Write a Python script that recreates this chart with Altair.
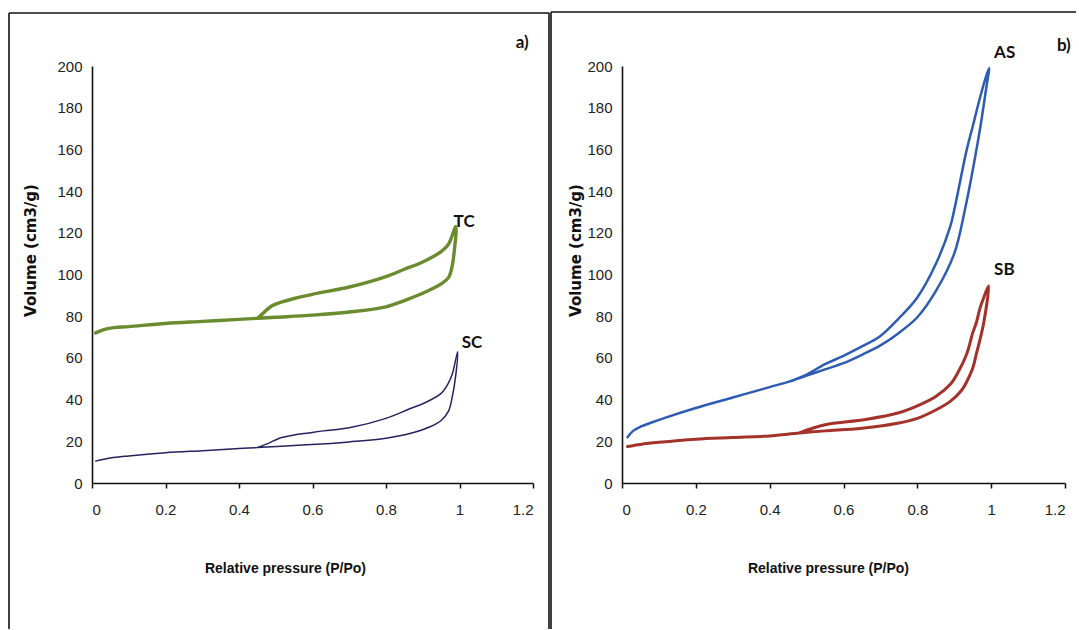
import altair as alt
import pandas as pd

# ---------------- data ----------------
# Panel a) TC (green) and SC (navy): adsorption branch then desorption branch
tc_ads_x = [0.01, 0.03, 0.06, 0.1, 0.2, 0.3, 0.4, 0.45, 0.5, 0.6, 0.7, 0.8, 0.85, 0.9, 0.93, 0.95, 0.97, 0.98, 0.985, 0.99]
tc_ads_y = [72, 73.5, 74.5, 75, 76.5, 77.5, 78.5, 79, 79.5, 80.5, 82, 84.5, 87.5, 91, 93.5, 95.5, 98.5, 104, 110, 123]
tc_des_x = [0.99, 0.97, 0.95, 0.9, 0.85, 0.8, 0.7, 0.6, 0.55, 0.52, 0.49, 0.46, 0.45]
tc_des_y = [123, 114.5, 111, 106, 102.5, 99, 94, 90.5, 88.5, 87, 85, 80.5, 79]

sc_ads_x = [0.01, 0.05, 0.1, 0.2, 0.3, 0.4, 0.45, 0.55, 0.65, 0.7, 0.8, 0.87, 0.92, 0.95, 0.97, 0.98, 0.99, 0.995]
sc_ads_y = [10.5, 12, 13, 14.5, 15.5, 16.5, 17, 18, 19, 19.7, 21.5, 24, 27, 30, 34.5, 41, 52, 63]
sc_des_x = [0.995, 0.98, 0.97, 0.95, 0.9, 0.87, 0.8, 0.7, 0.63, 0.59, 0.55, 0.51, 0.48, 0.45]
sc_des_y = [63, 52, 48, 43, 38, 36, 31, 26.5, 25, 24, 23, 21.5, 19, 17]

# Panel b) AS (blue) and SB (red)
as_ads_x = [0.015, 0.03, 0.05, 0.08, 0.12, 0.2, 0.3, 0.4, 0.45, 0.5, 0.55, 0.6, 0.65, 0.7, 0.75, 0.8, 0.85, 0.9, 0.93, 0.95, 0.97, 0.988, 0.995]
as_ads_y = [22, 25, 27, 29, 31.5, 36, 41, 46, 48.5, 51.5, 54.5, 57.5, 61.5, 66, 72, 79.5, 92, 110, 132, 150, 170, 191, 199]
as_des_x = [0.995, 0.988, 0.97, 0.95, 0.934, 0.9, 0.889, 0.85, 0.8, 0.75, 0.7, 0.65, 0.6, 0.55, 0.5, 0.45]
as_des_y = [199, 196, 185, 171, 160, 131, 123, 105, 89, 79, 70.5, 65.5, 61, 57, 52, 48.5]

sb_ads_x = [0.015, 0.05, 0.1, 0.2, 0.3, 0.4, 0.48, 0.55, 0.65, 0.75, 0.8, 0.85, 0.89, 0.92, 0.935, 0.95, 0.96, 0.97, 0.98, 0.993]
sb_ads_y = [17.5, 18.5, 19.5, 21, 21.8, 22.6, 24, 25, 26.3, 28.8, 31, 35, 39.3, 44.5, 49, 55, 62, 69, 77, 94.5]
sb_des_x = [0.993, 0.98, 0.97, 0.96, 0.95, 0.934, 0.91, 0.89, 0.85, 0.8, 0.75, 0.66, 0.56, 0.52, 0.48]
sb_des_y = [94.5, 89, 84, 77, 72, 62, 53, 47.5, 41.5, 37, 33.7, 30.5, 28.3, 26.5, 24]

# annotation texts and their anchor points (data coordinates)
a_labels = ["TC", "SC", "a)"]
a_label_x = [0.984, 1.006, 1.153]
a_label_y = [125, 67, 211]
b_labels = ["AS", "SB", "b)"]
b_label_x = [1.008, 1.008, 1.178]
b_label_y = [206, 102, 209.5]

x_ticks = [0, 0.2, 0.4, 0.6, 0.8, 1.0, 1.2]
y_ticks = [0, 20, 40, 60, 80, 100, 120, 140, 160, 180, 200]

a_names = ["TC", "SC"]
a_colors = ["#6a8c2e", "#25235e"]
a_widths = [3.4, 1.5]
b_names = ["AS", "SB"]
b_colors = ["#2e5cb3", "#a3322b"]
b_widths = [2.5, 3.0]

LABEL_FONT = "Liberation Sans"


def loop_frame(items):
    rows = []
    for name, ax, ay, dx, dy in items:
        xs = ax + dx[1:]
        ys = ay + dy[1:]
        for i, (x, y) in enumerate(zip(xs, ys)):
            rows.append({"series": name, "p": x, "v": y, "i": i})
    return pd.DataFrame(rows)


def panel(df, names, colors, widths, labels, lx, ly, width, bleft, btop, bright, bx2,
          xtitle_x, ytitle_pad):
    xsc = alt.Scale(domain=[0, 1.2], nice=False, zero=False)
    ysc = alt.Scale(domain=[0, 200], nice=False)
    lines = alt.Chart(df).mark_line(
        strokeCap="round", strokeJoin="round", interpolate="catmull-rom"
    ).encode(
        x=alt.X("p:Q", scale=xsc,
                axis=alt.Axis(title="Relative pressure (P/Po)", values=x_ticks, format="~g",
                              titleX=xtitle_x)),
        y=alt.Y("v:Q", scale=ysc,
                axis=alt.Axis(title="Volume (cm3/g)", values=y_ticks, format="d",
                              titleY=184, titlePadding=ytitle_pad)),
        color=alt.Color("series:N", scale=alt.Scale(domain=names, range=colors), legend=None),
        strokeWidth=alt.StrokeWidth("series:N", scale=alt.Scale(domain=names, range=widths), legend=None),
        order=alt.Order("i:Q"),
    )
    ldf = pd.DataFrame({"t": labels, "p": lx, "v": ly})
    texts = alt.Chart(ldf).mark_text(
        align="left", baseline="middle", font="Lato", fontWeight="bold", fontSize=17, color="#111"
    ).encode(x="p:Q", y="v:Q", text="t:N")
    one = pd.DataFrame({"k": [0]})
    layers = [lines, texts]
    rule = alt.Chart(one).mark_rule(color="#111", strokeWidth=1.6)
    layers.append(rule.encode(x=alt.value(bleft), y=alt.value(btop), y2=alt.value(563)))
    layers.append(rule.encode(x=alt.value(bleft), x2=alt.value(bx2), y=alt.value(btop)))
    if bright is not None:
        layers.append(rule.encode(x=alt.value(bright), y=alt.value(btop), y2=alt.value(563)))
    return alt.layer(*layers).properties(width=width, height=417)


df_a = loop_frame([
    ("TC", tc_ads_x, tc_ads_y, tc_des_x, tc_des_y),
    ("SC", sc_ads_x, sc_ads_y, sc_des_x, sc_des_y),
])
df_b = loop_frame([
    ("AS", as_ads_x, as_ads_y, as_des_x, as_des_y),
    ("SB", sb_ads_x, sb_ads_y, sb_des_x, sb_des_y),
])

left = panel(df_a, a_names, a_colors, a_widths, a_labels, a_label_x, a_label_y,
             441, -83, -53, 457, 457, 193, 18)
right = panel(df_b, b_names, b_colors, b_widths, b_labels, b_label_x, b_label_y,
              443, -71, -54, None, 454, 206, 3)

chart = alt.hconcat(left, right, spacing=89, bounds="flush").resolve_scale(
    color="independent", strokeWidth="independent"
).properties(
    padding={"left": 8, "top": 11, "right": 0, "bottom": 0},
    background="white",
).configure_view(stroke=None).configure_axis(
    grid=False,
    domainColor="#111",
    domainWidth=1.6,
    labelFont=LABEL_FONT,
    labelFontSize=15,
    labelColor="#222",
    titleColor="#111",
).configure_axisX(
    tickColor="#111",
    tickSize=5,
    tickWidth=1.5,
    labelPadding=14,
    titleFont=LABEL_FONT,
    titleFontSize=14,
    titleFontWeight="bold",
    titlePadding=44,
).configure_axisY(
    ticks=False,
    labelPadding=10,
    titleFont="DejaVu Sans",
    titleFontSize=15,
    titleFontWeight="bold",
)

chart.save("out.html", embed_options={"renderer": "svg", "actions": False})
